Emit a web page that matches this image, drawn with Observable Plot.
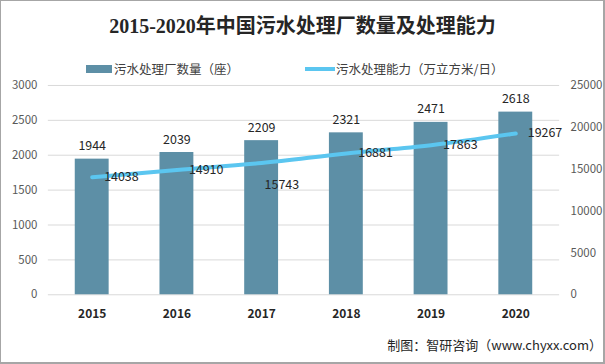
<!DOCTYPE html>
<html><head><meta charset="utf-8">
<script src="https://cdn.jsdelivr.net/npm/d3@7"></script>
<script src="https://cdn.jsdelivr.net/npm/@observablehq/plot@0.6"></script>
<style>
body{margin:0;background:#fff;}
#wrap{position:relative;width:602px;height:361px;border:1px solid #a6a6a6;border-right-width:2px;border-bottom-width:2px;background:#fff;font-family:"Noto Sans CJK SC","Microsoft YaHei",sans-serif;overflow:hidden;}
#title{position:absolute;left:0;width:603px;top:11px;text-align:center;font-family:"Liberation Serif","Noto Sans CJK SC",serif;font-weight:bold;font-size:20px;color:#262626;line-height:28px;}
.leg{position:absolute;top:59px;font-size:12.5px;color:#404040;line-height:18px;white-space:nowrap;}
.sw{position:absolute;}
#chart{position:absolute;left:-1px;top:73px;}
#cap{position:absolute;right:1px;top:335px;font-size:13px;color:#262626;line-height:18px;white-space:nowrap;}
</style></head>
<body>
<div id="wrap">
  <div id="title">2015-2020年中国污水处理厂数量及处理能力</div>
  <div class="sw" style="left:85px;top:64px;width:26px;height:8px;background:#5D8FA6;"></div>
  <div class="leg" style="left:113px;">污水处理厂数量（座）</div>
  <div class="sw" style="left:304px;top:66px;width:30px;height:4px;background:#5BC6F0;"></div>
  <div class="leg" style="left:335px;">污水处理能力（万立方米/日）</div>
  <div id="chart"></div>
  <div id="cap">制图：智研咨询（www.chyxx.com）</div>
</div>
<script>
const years = ["2015","2016","2017","2018","2019","2020"];
const plantCount = [1944, 2039, 2209, 2321, 2471, 2618];
const capacity = [14038, 14910, 15743, 16881, 17863, 19267];
const leftTicks = [0, 500, 1000, 1500, 2000, 2500, 3000];
const rightTicks = [0, 5000, 10000, 15000, 20000, 25000];

const ratio = 3000 / 25000;
const rows = years.map((y, i) => ({year: y, count: plantCount[i], cap: capacity[i], capL: capacity[i] * ratio}));
const below = rows.filter(d => d.year === "2017");
const right = rows.filter(d => d.year !== "2017");

const font = "Noto Sans CJK SC, sans-serif";
const chart = Plot.plot({
  width: 605,
  height: 258,
  marginLeft: 48,
  marginRight: 44,
  marginTop: 11,
  marginBottom: 37,
  style: {fontFamily: font, fontSize: "11.5px", background: "transparent", overflow: "visible"},
  x: {domain: years, paddingInner: 0.6, paddingOuter: 0.3, label: null},
  y: {domain: [0, 3000], label: null},
  marks: [
    Plot.gridY(leftTicks, {stroke: "#d9d9d9", strokeOpacity: 1}),
    Plot.axisY({ticks: leftTicks, tickSize: 0, tickPadding: 11, fill: "#595959", label: null, tickFormat: v => String(v)}),
    Plot.axisY(rightTicks.map(v => v * ratio), {anchor: "right", tickSize: 0, tickPadding: 11, fill: "#595959", label: null, tickFormat: v => String(Math.round(v / ratio))}),
    Plot.axisX({tickSize: 0, tickPadding: 15, fontWeight: "bold", fontSize: 12, fill: "#262626", label: null}),
    Plot.barY(rows, {x: "year", y: "count", fill: "#5D8FA6"}),
    Plot.text(rows, {x: "year", y: "count", text: d => String(d.count), dy: -13, fill: "#262626", fontSize: 12.5}),
    Plot.line(rows, {x: "year", y: "capL", stroke: "#5BC6F0", strokeWidth: 4, curve: "monotone-x"}),
    Plot.text(right, {x: "year", y: "capL", text: d => String(d.cap), dx: 12, textAnchor: "start", fill: "#262626", fontSize: 12.5}),
    Plot.text(below, {x: "year", y: "capL", text: d => String(d.cap), dx: 3, dy: 22, textAnchor: "start", fill: "#262626", fontSize: 12.5})
  ]
});
document.getElementById("chart").appendChild(chart);
</script>
</body></html>
